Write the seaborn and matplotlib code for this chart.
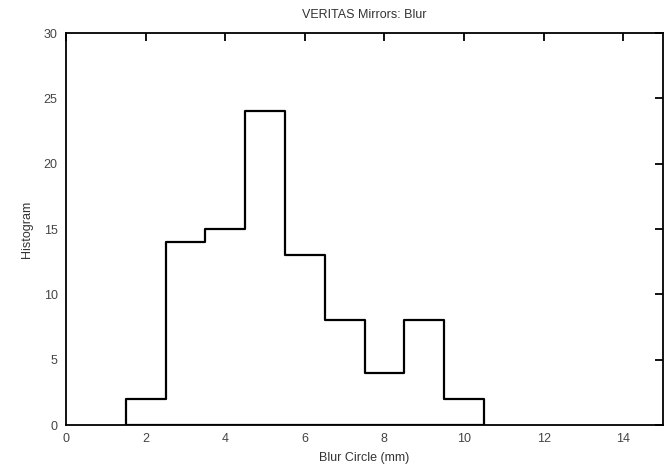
import matplotlib
matplotlib.use("Agg")
import matplotlib.pyplot as plt
import seaborn as sns
import numpy as np

blur_centers = [2, 3, 4, 5, 6, 7, 8, 9, 10]
counts = [2, 14, 15, 24, 13, 8, 4, 8, 2]
bin_edges = [1.5, 2.5, 3.5, 4.5, 5.5, 6.5, 7.5, 8.5, 9.5, 10.5]
x_ticks = [0, 2, 4, 6, 8, 10, 12, 14]
y_ticks = [0, 5, 10, 15, 20, 25, 30]

sns.set_style("white")
plt.rcParams['font.family'] = ['Liberation Sans', 'DejaVu Sans']

fig = plt.figure(figsize=(6.69, 4.67), dpi=100)
ax = fig.add_axes([66/669, 1 - 425/467, (663-66)/669, (425-33)/467])

sns.histplot(x=blur_centers, weights=counts, bins=bin_edges, element="step",
             fill=True, color="black", alpha=1, linewidth=1.6, ax=ax)
for coll in ax.collections:
    coll.set_facecolor("none")
    coll.set_edgecolor("black")
    coll.set_linewidth(1.6)

ax.set_xlim(0, 15)
ax.set_ylim(0, 30)
ax.set_xticks(x_ticks)
ax.set_yticks(y_ticks)
ax.tick_params(direction="in", length=6, width=1.3, top=True, right=True,
               labelsize=9, colors="black", pad=6)
for lab in ax.get_xticklabels() + ax.get_yticklabels():
    lab.set_color("#444444")
for s in ax.spines.values():
    s.set_linewidth(1.3)
    s.set_color("black")
    s.set_visible(True)
    s.set_zorder(5)

ax.set_xlabel("Blur Circle (mm)", fontsize=9, color="#333333", labelpad=5)
ax.set_ylabel("Histogram", fontsize=9, color="#333333", labelpad=8)
ax.set_title("VERITAS Mirrors: Blur", fontsize=9, color="#333333", pad=11)

fig.savefig("out.png", dpi=100)
